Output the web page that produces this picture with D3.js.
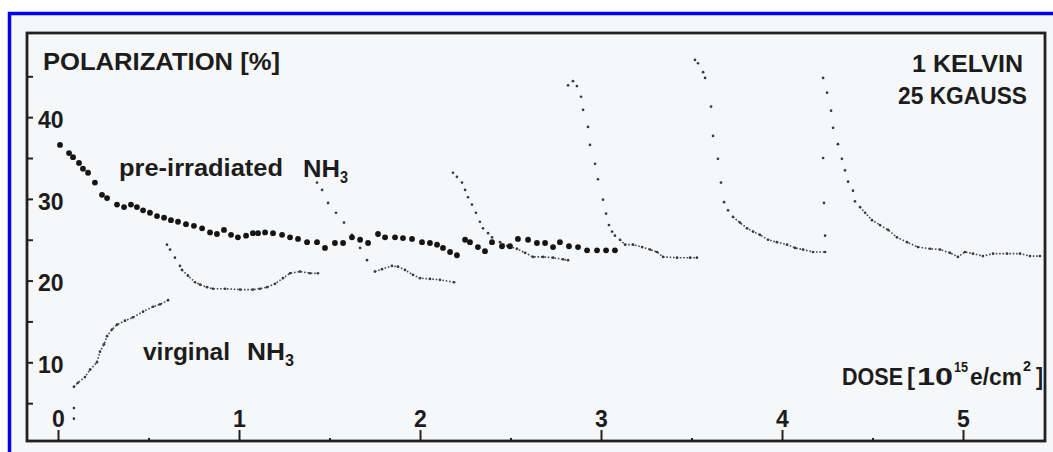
<!DOCTYPE html>
<html>
<head>
<meta charset="utf-8">
<script src="https://cdn.jsdelivr.net/npm/d3@7/dist/d3.min.js"></script>
<style>
  html, body { margin: 0; padding: 0; background: #ffffff; }
  svg { display: block; }
  text { font-family: "Liberation Sans", Arial, sans-serif; fill: #1c1c1c; font-weight: bold; }
</style>
</head>
<body>
<svg id="chart" width="1053" height="452"></svg>
<script>
// ---------------- DATA (dose in 1e15 e/cm^2, polarization in %) ----------------
const doseTicks = [0, 1, 2, 3, 4, 5];
const doseMinorTicks = [0.5, 1.5, 2.5, 3.5, 4.5];
const polLabelTicks = [10, 20, 30, 40];
const polTicks = [5, 10, 15, 20, 25, 30, 35, 40, 45];

// pre-irradiated NH3 (large dots)
const preDose = [0.011,0.061,0.083,0.116,0.138,0.166,0.204,0.243,0.271,0.326,0.365,0.403,0.436,0.470,0.508,0.547,0.586,0.624,0.663,0.707,0.751,0.796,0.840,0.878,0.917,0.956,0.994,1.039,1.077,1.105,1.144,1.188,1.238,1.282,1.326,1.376,1.431,1.475,1.530,1.575,1.624,1.669,1.713,1.768,1.807,1.862,1.906,1.956,2.011,2.055,2.094,2.127,2.166,2.204,2.249,2.276,2.320,2.359,2.398,2.453,2.497,2.541,2.597,2.646,2.691,2.735,2.773,2.823,2.873,2.923,2.978,3.028,3.077];
const prePol  = [36.6,35.6,35.1,34.4,33.7,33.2,32.0,30.5,30.1,29.3,29.0,29.3,29.0,28.6,28.3,27.9,27.7,27.4,27.2,26.9,26.7,26.4,25.9,25.7,26.2,25.6,25.3,25.5,25.8,25.8,25.9,25.8,25.6,25.3,25.1,24.7,24.7,24.0,24.6,24.6,25.3,25.0,24.6,25.7,25.3,25.3,25.2,25.1,24.7,24.6,24.4,24.0,23.5,23.1,25.0,24.7,24.1,23.6,24.7,24.2,24.2,25.1,25.0,24.6,24.6,24.1,24.7,24.2,24.1,23.7,23.7,23.7,23.7];

// virginal NH3 and the following irradiation runs (small dots)
const runADose = [0.088,0.088,0.088,0.110,0.149,0.177,0.215,0.232,0.254,0.271,0.298,0.326,0.370,0.414,0.470,0.525,0.564,0.608];
const runAPol  = [3.1,4.4,7.0,7.5,8.2,9.1,10.0,11.3,12.2,13.2,14.0,14.6,15.1,15.5,16.2,16.8,17.1,17.6];

const runBDose = [0.602,0.619,0.646,0.674,0.685,0.718,0.757,0.785,0.823,0.856,0.923,1.006,1.077,1.116,1.155,1.199,1.243,1.282,1.337,1.392,1.436];
const runBPol  = [24.4,23.8,22.8,21.8,21.3,20.6,19.8,19.5,19.2,19.0,19.0,18.9,18.9,19.0,19.2,19.6,20.3,20.9,21.1,20.9,20.9];

const runCDose = [1.431,1.459,1.492,1.536,1.580,1.624,1.669,1.707,1.751,1.790,1.845,1.878,1.917,1.961,2.000,2.055,2.110,2.188];
const runCPol  = [32.0,31.1,29.5,28.3,27.1,25.6,24.0,22.5,21.1,21.4,21.8,21.7,21.3,20.7,20.3,20.2,20.1,19.8];

const runDDose = [2.182,2.204,2.232,2.249,2.265,2.287,2.309,2.331,2.348,2.376,2.398,2.442,2.486,2.536,2.580,2.624,2.680,2.735,2.790,2.818];
const runDPol  = [33.2,32.7,32.0,31.1,30.2,29.3,28.3,27.2,26.4,25.8,25.3,24.7,24.2,23.9,23.4,22.9,22.9,22.8,22.6,22.5];

const runEDose = [2.818,2.845,2.867,2.890,2.901,2.928,2.939,2.967,2.983,3.011,3.028,3.044,3.061,3.077,3.105,3.133,3.177,3.227,3.271,3.309,3.343,3.420,3.492,3.530];
const runEPol  = [43.9,44.4,43.8,42.5,40.9,38.8,36.6,34.3,32.4,29.9,28.2,26.8,26.0,25.5,25.0,24.4,24.4,24.1,23.8,23.5,22.9,22.8,22.8,22.8];

const runFDose = [3.519,3.536,3.564,3.575,3.608,3.619,3.646,3.663,3.680,3.702,3.729,3.768,3.807,3.840,3.878,3.923,3.972,4.028,4.072,4.116,4.171,4.238];
const runFPol  = [47.0,46.6,45.5,44.8,41.3,37.7,34.9,32.0,29.6,28.6,27.8,27.1,26.4,26.0,25.6,25.0,24.7,24.4,24.0,23.8,23.5,23.5];

const runGDose = [4.227,4.232,4.238];
const runGPol  = [35.0,29.5,25.5];

const runHDose = [4.227,4.249,4.271,4.282,4.309,4.331,4.348,4.365,4.392,4.403,4.431,4.459,4.497,4.541,4.586,4.635,4.691,4.751,4.818,4.873,4.928,4.972,5.011,5.055,5.110,5.166,5.243,5.315,5.370,5.425];
const runHPol  = [44.8,43.0,40.8,38.7,36.7,34.9,33.5,32.1,31.0,29.7,29.0,28.3,27.4,26.8,26.2,25.3,24.7,24.1,23.9,23.8,23.4,22.9,23.5,23.3,23.0,23.3,23.3,23.3,23.0,23.0];

// ---------------- LAYOUT ----------------
const svg = d3.select("#chart");
const frame = { left: 27, right: 1045, top: 33, bottom: 441 };

const x = d3.scaleLinear().domain([-0.1713, 5.453]).range([frame.left, frame.right]);
const y = d3.scaleLinear().domain([0.37, 50.3]).range([frame.bottom, frame.top]);

// page background + blue border
svg.append("rect").attr("x", 9.5).attr("y", 13.5).attr("width", 1050).attr("height", 445)
  .attr("fill", "#f6f7f9").attr("stroke", "#0000ee").attr("stroke-width", 3.5);

// plot frame
svg.append("rect")
  .attr("x", frame.left).attr("y", frame.top)
  .attr("width", frame.right - frame.left).attr("height", frame.bottom - frame.top)
  .attr("fill", "none").attr("stroke", "#222").attr("stroke-width", 2.8);

// ---- axes ----
const axisStyle = g => {
  g.select(".domain").remove();
  g.selectAll(".tick line").attr("stroke", "#222").attr("stroke-width", 2);
};
const tickFont = "Liberation Sans, Arial, sans-serif";

// y ticks (inward)
const yAxis = d3.axisLeft(y).tickValues(polTicks).tickSize(-6)
  .tickFormat(d => polLabelTicks.includes(d) ? d : "");
svg.append("g").attr("transform", `translate(${frame.left},0)`).call(yAxis).call(axisStyle)
  .call(g => g.selectAll(".tick text")
    .attr("x", 11).attr("dy", "0.36em").attr("y", 2)
    .attr("text-anchor", "start").attr("font-size", 23).attr("font-weight", "bold")
    .attr("font-family", tickFont).attr("fill", "#1c1c1c"));

// x major ticks (inward) with labels above
const xAxis = d3.axisBottom(x).tickValues(doseTicks).tickSize(-11).tickFormat(d3.format("d"));
svg.append("g").attr("transform", `translate(0,${frame.bottom})`).call(xAxis).call(axisStyle)
  .call(g => g.selectAll(".tick text")
    .attr("y", -14).attr("dy", "0")
    .attr("text-anchor", "middle").attr("font-size", 23).attr("font-weight", "bold")
    .attr("font-family", tickFont).attr("fill", "#1c1c1c"));

// x minor ticks
const xMinor = d3.axisBottom(x).tickValues(doseMinorTicks).tickSize(-3).tickFormat("");
svg.append("g").attr("transform", `translate(0,${frame.bottom})`).call(xMinor).call(axisStyle);

// ---- small-dot runs ----
const runs = [
  { d: runADose, p: runAPol, tail: 2 },
  { d: runBDose, p: runBPol, tail: 4 },
  { d: runCDose, p: runCPol, tail: 8 },
  { d: runDDose, p: runDPol, tail: 11 },
  { d: runEDose, p: runEPol, tail: 14 },
  { d: runFDose, p: runFPol, tail: 10 },
  { d: runGDose, p: runGPol, tail: 99 },
  { d: runHDose, p: runHPol, tail: 10 }
];
const line = d3.line().x(d => x(d[0])).y(d => y(d[1])).curve(d3.curveLinear);
const gSmall = svg.append("g");
runs.forEach(r => {
  const pts = r.d.map((v, i) => [v, r.p[i]]);
  const tailPts = pts.slice(r.tail);
  if (tailPts.length > 1) {
    gSmall.append("path").attr("d", line(tailPts))
      .attr("fill", "none").attr("stroke", "#4a4a4a").attr("stroke-width", 1.6)
      .attr("stroke-dasharray", "1.6 1.8");
  }
  gSmall.selectAll(null).data(pts).enter().append("circle")
    .attr("cx", d => x(d[0])).attr("cy", d => y(d[1])).attr("r", 1.35)
    .attr("fill", "#3a3a3a");
});

// ---- large dots: pre-irradiated ----
svg.append("g").selectAll("circle")
  .data(preDose.map((v, i) => [v, prePol[i]]))
  .enter().append("circle")
  .attr("cx", d => x(d[0])).attr("cy", d => y(d[1])).attr("r", 2.9)
  .attr("fill", "#151515");

// ---- texts ----
function txt(s, xx, yy, size, len, anchor) {
  const t = svg.append("text").attr("x", xx).attr("y", yy).attr("font-size", size)
    .attr("text-anchor", anchor || "start").text(s);
  if (len) t.attr("textLength", len).attr("lengthAdjust", "spacingAndGlyphs");
  return t;
}
txt("POLARIZATION [%]", 43, 70, 23, 237);
txt("1 KELVIN", 1023, 72, 23, 111, "end");
txt("25 KGAUSS", 1027, 104, 23, 129, "end");

txt("pre-irradiated", 119, 176, 23, 164);
txt("NH", 303, 177, 23, 37);
txt("3", 340, 183, 16, 8);

txt("virginal", 143, 360, 23, 87);
txt("NH", 247, 360, 23, 38);
txt("3", 285, 366, 16, 9);

txt("DOSE", 842, 385, 23, 61);
txt("[", 907, 385, 23, 8);
txt("10", 917, 385, 23, 36);
txt("15", 954, 372, 15, 14);
txt("e/cm", 970, 385, 23, 52);
txt("2", 1023, 371, 15, 8);
txt("]", 1036, 385, 23, 7);
</script>
</body>
</html>
